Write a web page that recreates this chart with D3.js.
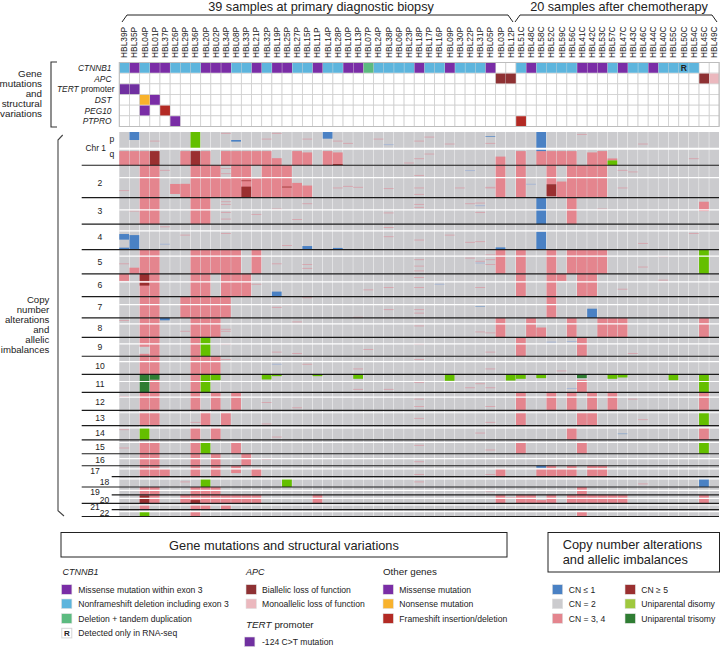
<!DOCTYPE html>
<html lang="en">
<head>
<meta charset="UTF-8">
<title>Copy number and mutation landscape</title>
<style>
  html, body { margin: 0; padding: 0; background: #fff; }
  svg { display: block; }
  text { font-family: "Liberation Sans", Arial, sans-serif; fill: #222; }
</style>
</head>
<body>
<script src="https://d3js.org/d3.v7.min.js"></script>
<script>
// samples, in plot order
const primarySamples = ["39P","35P","04P","01P","37P","26P","29P","36P","20P","02P","34P","08P","33P","21P","32P","19P","25P","27P","15P","11P","14P","28P","10P","13P","07P","24P","38P","06P","23P","18P","17P","16P","09P","30P","22P","31P","05P","03P","12P"];
const chemoSamples = ["51C","48C","58C","52C","59C","56C","41C","42C","53C","57C","47C","43C","46C","44C","40C","55C","50C","54C","45C","49C"];
const samples = primarySamples.concat(chemoSamples);

// genes
const genes = ["CTNNB1","APC","TERT","DST","PEG10","PTPRO"];
// CTNNB1 calls, one list per call type
const ctnnb1Missense = "35P 01P 37P 20P 02P 34P 21P 19P 25P 11P 10P 13P 18P 09P 05P 48C 41C 42C 53C 47C 44C".split(" ");
const ctnnb1Deletion = "39P 04P 26P 29P 36P 08P 33P 32P 27P 15P 14P 28P 24P 38P 06P 23P 17P 16P 30P 22P 31P 51C 58C 52C 59C 56C 57C 43C 46C 40C 55C 50C 54C".split(" ");
const ctnnb1Tandem = ["07P"];
const otherMutations = [
  ["APC","03P","biallelic"],["APC","12P","biallelic"],["APC","45C","biallelic"],["APC","49C","monoallelic"],
  ["TERT","39P","tert"],["TERT","35P","tert"],
  ["DST","04P","nonsense"],["DST","01P","missense"],
  ["PEG10","04P","missense"],["PEG10","37P","frameshift"],
  ["PTPRO","26P","missense"],["PTPRO","51C","frameshift"]
];
const rnaOnly = ["50C"];

// chromosomes, in Mb
const chromosomes = ["1","2","3","4","5","6","7","8","9","10","11","12","13","14","15","16","17","18","19","20","21","22"];
const chrLengths = [249,243,198,191,181,171,159,146,141,136,135,134,115,107,103,90,81,78,59,63,48,51];
const chrCentromeres = [125,93,91,50,48,60,59,45,48,40,53,35,18,17,19,37,24,17,26,27,13,15];

// copy number segments: [chromosome, start Mb, end Mb, samples]
const gainSegments = [
  ["1",143,249,"39P 35P 04P 29P 20P 34P 08P 33P 21P 32P 27P 14P 51C 58C 52C 59C 56C 53C"],
  ["1",153,249,"15P 28P 42C"],["1",196,249,"19P"],["1",184,249,"03P"],["1",198,213,"57C"],
  ["2",0,243,"04P 01P 36P 20P 02P 08P 33P 32P 19P 25P 03P 51C 56C 41C 42C 53C"],
  ["2",100,243,"34P 21P"],["2",132,243,"27P"],["2",152,243,"15P"],["2",140,215,"26P"],["2",139,243,"29P"],
  ["2",122,243,"59C"],["2",0,142,"52C"],
  ["3",0,198,"04P 01P 36P 20P 56C"],["3",30,100,"45C"],
  ["5",0,181,"04P 01P 36P 20P 02P 34P 08P 21P 03P 51C 52C 56C 41C 42C 53C"],["5",135,181,"35P"],
  ["6",0,171,"04P 01P 36P 20P 34P 08P 33P 51C 52C 41C 42C"],["6",0,53,"39P 59C"],
  ["7",0,159,"04P 01P 29P 36P 20P 02P 34P 52C"],
  ["8",0,146,"04P 01P 36P 20P 02P 03P 48C 56C 53C 57C 47C 45C"],["8",72,146,"58C"],
  ["9",0,70,"04P"],["9",123,141,"04P"],["9",0,141,"01P 36P 51C 41C"],
  ["10",0,136,"04P 01P 36P 20P 02P"],
  ["11",40,135,"01P 41C"],["11",0,135,"36P"],
  ["12",0,134,"04P 01P 36P 02P 08P 51C 52C 56C 42C 57C 45C"],
  ["13",19,115,"04P 01P 20P 34P 51C 41C 42C"],
  ["14",18,107,"36P 02P 56C 45C"],
  ["15",19,103,"04P 01P 36P 08P 51C 41C"],
  ["16",0,90,"04P 01P 36P 02P 33P"],
  ["17",0,81,"04P 01P 36P 02P"],["17",25,81,"37P 21P 03P 58C 52C 59C 56C 42C 53C"],["17",0,20,"52C 56C 42C 53C 08P"],["17",25,55,"08P"],
  ["19",0,59,"04P 01P 36P 20P 02P 41C"],
  ["20",0,63,"04P 01P 29P 36P 20P 02P 34P 08P 33P 21P 11P 03P 51C 48C 52C 56C 41C 42C 53C 57C 47C 45C"],["20",39,63,"58C"],
  ["21",14,48,"04P 36P 20P 34P"],
  ["22",15,51,"36P 41C"]
];
const highSegments = [
  ["1",143,249,"01P 36P"],["1",240,247,"28P"],
  ["2",114,119,"33P"],["2",160,243,"33P"],["2",142,233,"52C"],["2",160,166,"25P"],
  ["6",0,53,"04P"],["6",66,88,"04P"],
  ["20",5,63,"04P"],["20",39,63,"36P"]
];
const lossSegments = [
  ["1",0,60,"35P"],["1",0,50,"14P"],["1",0,120,"58C"],["1",125,143,"58C"],["1",60,72,"08P"],["1",30,35,"05P"],
  ["3",0,198,"58C"],
  ["4",74,116,"39P"],["4",176,191,"39P"],["4",82,191,"35P"],["4",164,191,"15P"],["4",178,191,"28P"],["4",57,191,"58C"],["4",174,191,"03P"],
  ["6",133,171,"19P"],
  ["7",90,159,"42C"],["7",70,73,"31P"],
  ["8",0,18,"37P"],
  ["14",60,63,"47C"],
  ["17",0,15,"58C"],
  ["18",17,78,"45C"]
];
const updSegments = [
  ["1",0,120,"36P"],["1",213,249,"57C"],
  ["5",0,181,"45C"],
  ["9",0,141,"20P"],
  ["11",0,135,"20P 45C"],["11",0,43,"02P 55C"],["11",0,38,"32P"],["11",0,13,"19P 11P"],["11",0,33,"13P 51C 57C"],["11",0,48,"09P"],["11",0,46,"12P"],["11",0,28,"58C"],["11",0,23,"47C"],
  ["13",19,115,"45C"],
  ["14",18,107,"04P"],
  ["15",19,103,"20P 45C"],
  ["18",17,78,"20P 25P"],
  ["22",15,51,"04P"]
];
const utSegments = [["11",0,135,"04P"],["11",0,40,"01P"],["11",0,28,"41C"]];

// small focal changes, faint in the picture: [chromosome, Mb, samples]
const focalGains = [
  ["1",10,"34P 19P"],["1",38,"17P"],["1",53,"32P 15P 24P"],["1",68,"01P 28P 18P"],["1",85,"10P 05P"],["1",90,"09P 46C"],["1",165,"17P"],["1",200,"18P 54C"],["1",232,"23P"],["1",18,"41C"],
  ["2",38,"37P 47C"],["2",25,"34P"],["2",63,"34P"],["2",190,"39P"],["2",170,"28P 30P 47C 18P 05P"],["2",158,"10P"],["2",165,"13P 05P"],["2",50,"43C"],["2",76,"18P"],["2",218,"18P"],["2",175,"38P"],
  ["3",30,"34P"],["3",50,"34P 18P"],["3",110,"34P 31P"],["3",160,"34P"],["3",85,"19P 53C"],["3",163,"27P"],["3",125,"21P"],["3",100,"35P"],["3",45,"15P 22P"],["3",72,"18P"],["3",40,"31P"],["3",114,"38P"],
  ["4",20,"37P"],["4",82,"29P 09P"],["4",70,"34P 54C"],["4",160,"25P"],["4",25,"38P"],["4",94,"38P"],["4",136,"22P"],["4",131,"31P"],["4",119,"18P"],["4",144,"46C"],
  ["5",106,"39P 19P"],["5",111,"15P 05P"],["5",140,"15P"],["5",75,"18P 05P"],["5",123,"18P"],["5",159,"18P"],["5",87,"31P"],["5",39,"05P"],["5",63,"22P"],["5",130,"46C"],["5",52,"40C"],
  ["6",78,"21P"],["6",27,"18P"],["6",102,"18P 38P 31P"],["6",47,"40C"],["6",115,"47C"],["6",120,"07P"],
  ["7",8,"15P"],["7",80,"19P"],["7",154,"13P"],["7",97,"18P 38P"],["7",123,"18P"],["7",60,"25P"],
  ["8",20,"39P"],["8",85,"34P"],["8",100,"34P 29P"],["8",60,"18P"],["8",105,"31P"],["8",112,"05P"],["8",30,"27P"],
  ["9",50,"34P 18P"],["9",110,"19P 05P"],["9",120,"27P 43C"],["9",90,"07P"],
  ["10",25,"18P 34P"],["10",60,"15P"],["10",95,"13P 05P"],["10",110,"59C"],
  ["11",100,"05P 22P"],["11",60,"18P"],["11",70,"31P"],["11",112,"13P 38P"],
  ["12",30,"39P"],["12",50,"18P 43C"],["12",75,"32P"],["12",105,"18P 05P"],["12",115,"27P"],
  ["13",60,"18P"],["13",70,"34P 46C"],["13",90,"36P 05P"],["13",102,"32P"],
  ["14",30,"39P"],["14",85,"19P"],["14",55,"31P"],
  ["15",40,"18P"],["15",60,"39P"],["15",75,"05P"],
  ["16",60,"18P"],["16",40,"32P"],
  ["17",65,"05P 18P"],["18",40,"29P 18P"],["18",55,"46C"],["19",30,"05P"],["20",20,"12P"]
];
const focalLosses = [
  ["1",95,"38P"],["2",40,"22P"],["2",142,"48C"],["4",150,"37P"],["6",78,"16P"],["5",100,"31P"],
  ["9",30,"56C"],["11",105,"56C"],["10",60,"19P"],["9",35,"52C"],["3",60,"31P"]
];

// legends
const legendCtnnb1 = ["Missense mutation within exon 3","Nonframeshift deletion including exon 3","Deletion + tandem duplication"];
const legendApc = ["Biallelic loss of function","Monoallelic loss of function"];
const legendOther = ["Missense mutation","Nonsense mutation","Frameshift insertion/deletion"];
const legendCnLeft = ["CN \u2264 1","CN = 2","CN = 3, 4"];
const legendCnRight = ["CN \u2265 5","Uniparental disomy","Uniparental trisomy"];

const col = {
  missense: "#7a2da6", deletion: "#5db5dd", tandem: "#5cbb80",
  biallelic: "#8e3133", monoallelic: "#ebb8be", tert: "#7030a0",
  nonsense: "#f8b22c", frameshift: "#b32a24",
  cnLoss: "#4a81c4", cnNormal: "#cbcbce", cnGain: "#e4858e", cnHigh: "#9a2f30",
  upd: "#64bf00", ut: "#2f7d33", updLegend: "#9fc83e",
  focalGain: "#d6a3ac", focalLoss: "#a5b5d4"
};

const svg = d3.select("body").append("svg").attr("width", 720).attr("height", 648);

const x = d3.scaleBand().domain(samples).range([119.3, 719]).paddingInner(0.04).paddingOuter(0);

// titles and top brackets
function line(pts, w, color) {
  svg.append("path").attr("d", d3.line()(pts)).attr("fill", "none").attr("stroke", color || "#222").attr("stroke-width", w || 1);
}
line([[122,22],[127,15],[508,15],[513,22]]);
line([[515,22],[520,15],[712,15],[717,22]]);
svg.append("text").attr("x", 321).attr("y", 10.5).attr("text-anchor", "middle").attr("font-size", 12.7).text("39 samples at primary diagnostic biopsy");
svg.append("text").attr("x", 619).attr("y", 10.5).attr("text-anchor", "middle").attr("font-size", 12.7).text("20 samples after chemotherapy");

svg.append("g").selectAll("text").data(samples).join("text")
  .attr("transform", d => "translate(" + (x(d) + x.bandwidth() / 2 + 3) + ",58) rotate(-90)")
  .attr("font-size", 8.4)
  .attr("fill", "#333")
  .text(d => "HBL" + d);

// mutation grid
const yGene = d3.scaleBand().domain(genes).range([62.5, 126.5]);
const gGrid = svg.append("g");
const cells = genes.flatMap(g => samples.map(s => ({ gene: g, sample: s })));
gGrid.selectAll("rect.cell").data(cells).join("rect")
  .attr("class", "cell")
  .attr("x", d => x(d.sample)).attr("y", d => yGene(d.gene))
  .attr("width", x.step()).attr("height", yGene.bandwidth())
  .attr("fill", "#fff").attr("stroke", "#cfcfcf").attr("stroke-width", 0.8);

const mutations = ctnnb1Missense.map(s => ["CTNNB1", s, "missense"])
  .concat(ctnnb1Deletion.map(s => ["CTNNB1", s, "deletion"]))
  .concat(ctnnb1Tandem.map(s => ["CTNNB1", s, "tandem"]))
  .concat(otherMutations);
gGrid.selectAll("rect.mut").data(mutations).join("rect")
  .attr("class", "mut")
  .attr("x", d => x(d[1]) + 0.2).attr("y", d => yGene(d[0]) + 0.4)
  .attr("width", x.step() - 0.4).attr("height", yGene.bandwidth() - 0.8)
  .attr("fill", d => col[d[2]]);
gGrid.selectAll("text.r").data(rnaOnly).join("text")
  .attr("class", "r")
  .attr("x", d => x(d) + x.step() / 2).attr("y", yGene("CTNNB1") + 8.4)
  .attr("text-anchor", "middle").attr("font-size", 8.5).attr("font-weight", "bold").text("R");
gGrid.append("rect").attr("x", 119.3).attr("y", 62.5).attr("width", 599.7).attr("height", 64)
  .attr("fill", "none").attr("stroke", "#bdbdbd").attr("stroke-width", 1);

// gene names
const gGene = svg.append("g").attr("font-size", 8.4).attr("text-anchor", "end");
genes.forEach(g => {
  const t = gGene.append("text").attr("x", g === "TERT" ? 114.5 : 111.5).attr("y", yGene(g) + yGene.bandwidth() / 2 + 3);
  t.append("tspan").attr("font-style", "italic").text(g);
  if (g === "TERT") t.append("tspan").text(" promoter");
});

// left side captions
function caption(lines, xr, y0, size, step) {
  svg.append("g").selectAll("text").data(lines).join("text")
    .attr("x", xr).attr("y", (d, i) => y0 + i * step)
    .attr("text-anchor", "end").attr("font-size", size).text(d => d);
}
caption(["Gene","mutations","and","structural","variations"], 42, 77, 9.8, 10.1);
caption(["Copy","number","alterations","and","allelic","imbalances"], 49.3, 303.4, 9.6, 9.85);
line([[57,62],[51,62],[51,127],[57,127]], 1.1, "#333");
line([[62.7,135],[58,140],[58,510.7],[64,516]], 1.1, "#444");

// copy number panel
const chrOffsets = d3.cumsum(chrLengths);
const chrStart = c => { const i = chromosomes.indexOf(c); return i === 0 ? 0 : chrOffsets[i - 1]; };
const y = d3.scaleLinear().domain([0, d3.sum(chrLengths)]).range([132, 516.5]);

const gCn = svg.append("g");
gCn.selectAll("rect.normal").data(samples).join("rect")
  .attr("class", "normal")
  .attr("x", d => x(d)).attr("y", y(0))
  .attr("width", x.bandwidth()).attr("height", y(d3.sum(chrLengths)) - y(0))
  .attr("fill", col.cnNormal);

function drawFocal(rows, color) {
  const marks = rows.flatMap(r => r[2].split(" ").map(s => ({ chr: r[0], pos: r[1], sample: s })));
  gCn.append("g").selectAll("rect").data(marks).join("rect")
    .attr("x", d => x(d.sample))
    .attr("y", d => y(chrStart(d.chr) + d.pos) - 0.45)
    .attr("width", x.bandwidth())
    .attr("height", 0.9)
    .attr("fill", color);
}
drawFocal(focalGains, col.focalGain);
drawFocal(focalLosses, col.focalLoss);

function drawSegments(rows, color) {
  const segs = rows.flatMap(r => r[3].split(" ").map(s => ({ chr: r[0], start: r[1], end: r[2], sample: s })));
  gCn.append("g").selectAll("rect").data(segs).join("rect")
    .attr("x", d => x(d.sample))
    .attr("y", d => y(chrStart(d.chr) + d.start))
    .attr("width", x.bandwidth())
    .attr("height", d => y(chrStart(d.chr) + d.end) - y(chrStart(d.chr) + d.start))
    .attr("fill", color);
}
drawSegments(gainSegments, col.cnGain);
drawSegments(highSegments, col.cnHigh);
drawSegments(lossSegments, col.cnLoss);
drawSegments(updSegments, col.upd);
drawSegments(utSegments, col.ut);

// centromere gaps
gCn.append("g").selectAll("line").data(chromosomes).join("line")
  .attr("x1", 119.3).attr("x2", 719)
  .attr("y1", d => y(chrStart(d) + chrCentromeres[chromosomes.indexOf(d)]))
  .attr("y2", d => y(chrStart(d) + chrCentromeres[chromosomes.indexOf(d)]))
  .attr("stroke", "#fff").attr("stroke-width", d => d === "1" ? 1.9 : 1.2);

// chromosome ends; 17, 19 and 21 are short so the labels can stagger
const shortLines = ["17","19","21"];
gCn.append("g").selectAll("line").data(chromosomes).join("line")
  .attr("x1", d => shortLines.includes(d) ? 111.7 : 81.7).attr("x2", 719)
  .attr("y1", d => y(chrStart(d) + chrLengths[chromosomes.indexOf(d)]))
  .attr("y2", d => y(chrStart(d) + chrLengths[chromosomes.indexOf(d)]))
  .attr("stroke", "#1c1c1c").attr("stroke-width", 1.2);

// chromosome labels
const rightLabels = ["18","20","22"];
const labelShift = { "2": 1, "19": 1, "20": 0.5, "21": 0.8, "22": -0.5 };
svg.append("g").selectAll("text").data(chromosomes.slice(1)).join("text")
  .attr("x", d => rightLabels.includes(d) ? 104.5 : (shortLines.includes(d) ? 95 : 100))
  .attr("y", d => y(chrStart(d) + chrLengths[chromosomes.indexOf(d)] / 2) + 3.2 + (labelShift[d] || 0))
  .attr("text-anchor", "middle").attr("font-size", 8.6).text(d => d);
svg.append("text").attr("x", 95.7).attr("y", 151.3).attr("text-anchor", "middle").attr("font-size", 8.4).text("Chr 1");
svg.append("text").attr("x", 112).attr("y", 142).attr("text-anchor", "middle").attr("font-size", 8.6).text("p");
svg.append("text").attr("x", 112).attr("y", 157).attr("text-anchor", "middle").attr("font-size", 8.6).text("q");

// legends
function legendBox(x0, y0, w, h) {
  svg.append("rect").attr("x", x0).attr("y", y0).attr("width", w).attr("height", h)
    .attr("fill", "#fff").attr("stroke", "#222").attr("stroke-width", 1);
}
function legendRows(labels, colors, xs, xt, ys) {
  const g = svg.append("g");
  g.selectAll("rect").data(labels).join("rect")
    .attr("x", xs).attr("y", (d, i) => ys[i] - 5).attr("width", 10.4).attr("height", 9.6)
    .attr("fill", (d, i) => colors[i]).attr("stroke", "#e0e0e0").attr("stroke-width", 0.6);
  g.selectAll("text").data(labels).join("text")
    .attr("x", xt).attr("y", (d, i) => ys[i] + 3).attr("font-size", 8.6).attr("fill", "#333").text(d => d);
}
const legendY = [589.7, 604, 618.7, 633.3];
legendBox(61, 532.5, 446, 24.5);
svg.append("text").attr("x", 284).attr("y", 550).attr("text-anchor", "middle").attr("font-size", 12.8).text("Gene mutations and structural variations");
svg.append("text").attr("x", 62.5).attr("y", 575).attr("font-size", 9).attr("font-style", "italic").text("CTNNB1");
legendRows(legendCtnnb1, [col.missense, col.deletion, col.tandem], 61.5, 78.3, legendY);
svg.append("rect").attr("x", 61.8).attr("y", 628.3).attr("width", 10).attr("height", 9.6).attr("fill", "#fff").attr("stroke", "#d5d5d5");
svg.append("text").attr("x", 66.8).attr("y", 636.4).attr("text-anchor", "middle").attr("font-size", 8).attr("font-weight", "bold").text("R");
svg.append("text").attr("x", 78.3).attr("y", 636.3).attr("font-size", 8.6).attr("fill", "#333").text("Detected only in RNA-seq");

svg.append("text").attr("x", 246).attr("y", 575).attr("font-size", 9).attr("font-style", "italic").text("APC");
legendRows(legendApc, [col.biallelic, col.monoallelic], 246, 262, legendY);
const tertHead = svg.append("text").attr("x", 246).attr("y", 627.5).attr("font-size", 9.8);
tertHead.append("tspan").attr("font-style", "italic").text("TERT");
tertHead.append("tspan").attr("dx", 3).text("promoter");
legendRows(["-124 C>T mutation"], [col.tert], 244.5, 262, [642]);

svg.append("text").attr("x", 383).attr("y", 575).attr("font-size", 9.8).text("Other genes");
legendRows(legendOther, [col.missense, col.nonsense, col.frameshift], 383, 399.3, legendY);

legendBox(548, 532.5, 171.5, 39.5);
svg.append("text").attr("x", 562.7).attr("y", 549).attr("font-size", 12.8).text("Copy number alterations");
svg.append("text").attr("x", 562.7).attr("y", 563.5).attr("font-size", 12.8).text("and allelic imbalances");
legendRows(legendCnLeft, [col.cnLoss, col.cnNormal, col.cnGain], 552.3, 568.7, legendY);
legendRows(legendCnRight, [col.cnHigh, col.updLegend, col.ut], 625, 641.3, legendY);
</script>
</body>
</html>
